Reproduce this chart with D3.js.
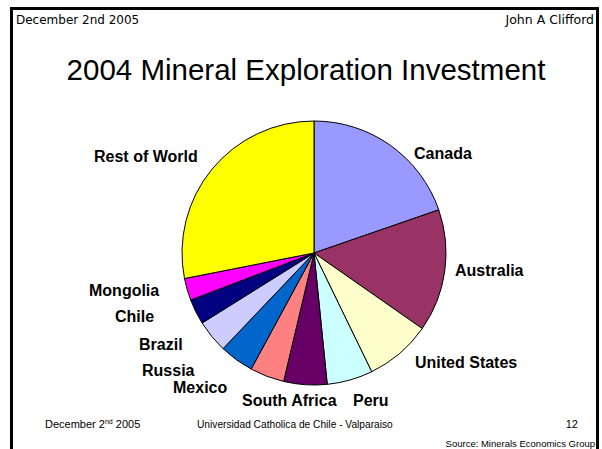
<!DOCTYPE html>
<html>
<head>
<meta charset="utf-8">
<script src="https://cdn.jsdelivr.net/npm/d3@7"></script>
<style>
html,body{margin:0;padding:0;background:#fff;}
svg{display:block;}
</style>
</head>
<body>
<svg id="chart" width="602" height="449"></svg>
<script>
const countries = ["Canada","Australia","United States","Peru","South Africa","Mexico","Russia","Brazil","Chile","Mongolia","Rest of World"];
const shares = [19.7, 15.0, 8.1, 5.6, 5.3, 4.2, 4.2, 4.0, 3.1, 2.7, 28.1];
const colors = ["#9999FF","#993366","#FFFFCC","#CCFFFF","#660066","#FF8080","#0066CC","#CCCCFF","#000080","#FF00FF","#FFFF00"];
// label anchor positions (left x, baseline y)
const labelX = [414, 455, 415, 353, 242, 173, 142, 139, 115, 89, 94];
const labelY = [159, 276, 368, 406, 406, 393, 376, 350, 322, 296, 162];

const svg = d3.select("#chart");
const W = 602, H = 449;

// frame
svg.append("rect").attr("x",11.5).attr("y",8.5).attr("width",586).attr("height",H).attr("fill","none").attr("stroke","#000").attr("stroke-width",3);

svg.append("text").attr("x",16).attr("y",24).attr("font-family","DejaVu Sans, Verdana, sans-serif").attr("font-size",12).text("December 2nd 2005");
svg.append("text").attr("x",594).attr("y",24).attr("text-anchor","end").attr("font-family","DejaVu Sans, Verdana, sans-serif").attr("font-size",12.5).text("John A Clifford");

svg.append("text").attr("x",306).attr("y",80).attr("text-anchor","middle").attr("font-family","Liberation Sans, Arial, sans-serif").attr("font-size",29.5).text("2004 Mineral Exploration Investment");

const cx = 314, cy = 253, R = 132;
const pie = d3.pie().sort(null).value(d => d).startAngle(0).endAngle(2*Math.PI);
const arc = d3.arc().innerRadius(0).outerRadius(R);
const g = svg.append("g").attr("transform",`translate(${cx},${cy})`);
g.selectAll("path").data(pie(shares)).join("path")
  .attr("d", arc)
  .attr("fill", (d,i) => colors[i])
  .attr("stroke","#000").attr("stroke-width",1).attr("stroke-linejoin","round");

svg.selectAll("text.lbl").data(countries).join("text").attr("class","lbl")
  .attr("x",(d,i)=>labelX[i]).attr("y",(d,i)=>labelY[i])
  .attr("font-family","Liberation Sans, Arial, sans-serif").attr("font-weight","bold").attr("font-size",16)
  .text(d=>d);

// footer
const foot = svg.append("text").attr("x",45).attr("y",428).attr("font-family","Liberation Sans, Arial, sans-serif").attr("font-size",11);
foot.append("tspan").text("December 2");
foot.append("tspan").attr("dy",-4).attr("font-size",7).text("nd");
foot.append("tspan").attr("dy",4).text(" 2005");
svg.append("text").attr("x",197).attr("y",428).attr("font-family","Liberation Sans, Arial, sans-serif").attr("font-size",10.2).text("Universidad Catholica de Chile - Valparaiso");
svg.append("text").attr("x",578).attr("y",428).attr("text-anchor","end").attr("font-family","Liberation Sans, Arial, sans-serif").attr("font-size",11).text("12");
svg.append("text").attr("x",595).attr("y",447).attr("text-anchor","end").attr("font-family","Liberation Sans Narrow, Liberation Sans, Arial, sans-serif").attr("font-size",9.5).text("Source: Minerals Economics Group");
</script>
</body>
</html>
